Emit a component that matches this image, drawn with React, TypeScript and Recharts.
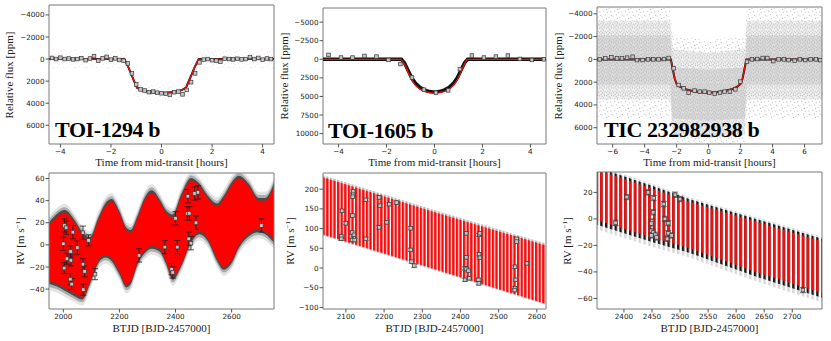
import React from "react";
import {
  Area,
  ComposedChart,
  ErrorBar,
  Line,
  ReferenceArea,
  Scatter,
  XAxis,
  YAxis,
} from "recharts";

// ---------- transit panels: binned flux (hours, ppm) ----------
const toi1294Bins = [
  [-4.33, -100], [-4.17, 0], [-4.0, -120], [-3.83, 0], [-3.67, -50], [-3.5, 30],
  [-3.33, 0], [-3.17, -80], [-3.0, 100], [-2.83, -50], [-2.67, -270], [-2.5, 150],
  [-2.33, -60], [-2.17, -200], [-2.0, 50], [-1.83, -60], [-1.67, 80], [-1.5, 150],
  [-1.33, 400], [-1.17, 1300], [-1.0, 2300], [-0.83, 2750], [-0.67, 2850], [-0.5, 3000],
  [-0.33, 2950], [-0.17, 3050], [0, 3100], [0.17, 3150], [0.33, 3250], [0.5, 3000],
  [0.67, 2950], [0.83, 3200], [1.0, 2800], [1.17, 2100], [1.33, 1300], [1.5, 300],
  [1.67, 50], [1.83, 0], [2.0, 100], [2.17, 150], [2.33, 250], [2.5, -30],
  [2.67, 0], [2.83, 30], [3.0, -30], [3.17, 30], [3.33, 0], [3.5, -180],
  [3.67, 0], [3.83, -100], [4.0, 50], [4.17, -50], [4.33, 0],
];
const toi1294Model = [
  [-4.45, 0], [-1.47, 0], [-1.3, 800], [-1.1, 1900], [-0.97, 2600], [-0.8, 2820],
  [-0.5, 2980], [0, 3080], [0.5, 2980], [0.8, 2820], [0.97, 2600], [1.1, 1900],
  [1.3, 800], [1.47, 0], [4.45, 0],
];
const toi1294Cloud = [
  [-4.45, -900, 900], [-1.5, -900, 900], [-1.3, -300, 1700], [-1.1, 700, 2900],
  [-0.97, 1600, 3700], [-0.5, 2000, 4000], [0, 2100, 4100], [0.5, 2000, 4000],
  [0.97, 1600, 3700], [1.1, 700, 2900], [1.3, -300, 1700], [1.5, -900, 900],
  [4.45, -900, 900],
];

const toi1605Bins = [
  [-4.42, -590], [-3.9, -230], [-3.42, -230], [-2.92, -450], [-2.42, -360],
  [-1.92, 90], [-1.42, 640], [-0.94, 2450], [-0.44, 4090], [0.06, 4500],
  [0.57, 4180], [1.06, 1320], [1.56, -500], [2.06, -230], [2.56, -360],
  [3.06, -500], [3.56, -45], [4.06, 90], [4.56, 0],
];
const toi1605ModelBlack = [
  [-4.65, 0], [-1.38, 0], [-1.25, 500], [-1.1, 1500], [-0.95, 2500], [-0.8, 3200],
  [-0.6, 3800], [-0.4, 4150], [-0.2, 4350], [0, 4420], [0.2, 4350], [0.4, 4150],
  [0.6, 3800], [0.8, 3200], [0.95, 2500], [1.1, 1500], [1.25, 500], [1.38, 0],
  [4.65, 0],
];
const toi1605ModelRed = [
  [-4.65, 0], [-1.4, 0], [-1.25, 650], [-1.1, 1750], [-0.95, 2800], [-0.8, 3500],
  [-0.6, 4050], [-0.4, 4350], [-0.2, 4500], [0, 4560], [0.2, 4500], [0.4, 4350],
  [0.6, 4050], [0.8, 3500], [0.95, 2800], [1.1, 1750], [1.25, 650], [1.36, 0],
  [4.65, 0],
];

const ticBins = [
  [-6.81, 0], [-6.46, -90], [-6.08, -175], [-5.73, -90], [-5.42, -90], [-5.1, -150],
  [-4.75, -230], [-4.48, 60], [-4.13, 60], [-3.79, 0], [-3.46, 0], [-3.13, 0],
  [-2.79, -30], [-2.5, -120], [-2.19, 790], [-1.88, 2250], [-1.56, 2540], [-1.25, 2920],
  [-0.88, 2740], [-0.56, 2830], [-0.25, 2830], [0.04, 2920], [0.38, 3000], [0.71, 2920],
  [1.0, 2830], [1.33, 2830], [1.67, 2630], [1.98, 1950], [2.4, 200], [2.71, 0],
  [3.04, -30], [3.38, -120], [3.67, -120], [4.04, 150], [4.38, 0], [4.71, 0],
  [5.0, 60], [5.38, 120], [5.71, 0], [6.04, 60], [6.38, 0], [6.71, 0], [6.98, 60],
];
const ticModel = [
  [-6.98, 0], [-2.36, 0], [-2.25, 800], [-2.12, 1700], [-2.0, 2150], [-1.8, 2400],
  [-1.5, 2600], [-1.0, 2780], [-0.5, 2880], [0, 2920], [0.5, 2880], [1.0, 2780],
  [1.5, 2600], [1.8, 2400], [2.0, 2150], [2.12, 1700], [2.25, 800], [2.36, 0],
  [7.09, 0],
];
const ticCloudOuter = [
  [-7.1, -4800, 5200], [-2.4, -4800, 5200], [-2.25, -2000, 7600], [0, -1700, 7600],
  [2.25, -2000, 7600], [2.4, -4800, 5200], [7.1, -4800, 5200],
];
const ticCloudMid = [
  [-7.1, -3400, 3500], [-2.4, -3400, 3500], [-2.25, -900, 6600], [0, -600, 6900],
  [2.25, -900, 6600], [2.4, -3400, 3500], [7.1, -3400, 3500],
];
const ticCloudInner = [
  [-7.1, -2100, 2200], [-2.4, -2100, 2200], [-2.25, 700, 5200], [0, 900, 5400],
  [2.25, 700, 5200], [2.4, -2100, 2200], [7.1, -2100, 2200],
];

// ---------- RV panels: (BTJD, RV, error) ----------
const toi1294Rv = [
  [2000, 1, 6], [2004, 17.5, 6], [2010, 15.5, 6], [2003, -21, 5], [2013, -12.5, 5],
  [2026, -6, 5], [2027, -14, 5], [2025, -31, 5], [2030, -35.5, 5], [2034, 11.5, 6],
  [2050, -2.5, 6], [2070, 11, 6], [2070, -17.5, 5], [2071, -40.5, 5], [2076, -24, 5],
  [2090, 4, 5], [2113, -26.5, 5], [2270, -9.5, 6], [2362, -2, 6], [2386, -22, 5],
  [2390, -25, 5], [2400, 24, 6], [2406, -2, 6], [2444, 44, 6], [2442, 28.5, 6],
  [2449, 28.5, 6], [2447, 5.5, 6], [2455, 1.5, 6], [2468, 46.5, 6], [2473, 20, 6],
  [2480, 47.5, 6], [2706, 17.5, 6],
];
const toi1294Band = [
  [1950, -33, 18], [1975, -35, 25], [2005, -39, 29], [2040, -44, 20], [2068, -47, 9],
  [2095, -33, 4.5], [2125, -14, 22], [2150, -9, 35], [2172, -12, 39], [2200, -24, 28],
  [2225, -36, 13], [2240, -33, 11], [2265, -15, 24], [2290, -5, 40], [2315, -1, 47],
  [2345, -4, 38], [2365, -14, 29], [2390, -29, 25], [2420, -17, 43], [2455, 4, 58],
  [2485, 12, 53], [2515, 6, 42], [2548, -12, 35], [2572, -20, 42], [2600, -14, 54],
  [2626, 0, 60], [2660, 10, 53], [2697, 14, 40], [2720, 12, 40], [2752, 4, 54],
];

const toi1605Rv = [
  [2090, 145, 4], [2088, 80, 4], [2088, 74, 4], [2100, 113.5, 4], [2119, 194, 4],
  [2119, 186, 4], [2118, 181, 4], [2117, 133, 4], [2116, 90, 4], [2116, 71, 4],
  [2121, 84, 4], [2123, 71, 4], [2152, 173, 4], [2152, 74, 4], [2187, 179, 4],
  [2189, 158, 4], [2187, 103, 4], [2207, 116, 4], [2214, 162, 4], [2233, 166, 4],
  [2270, 101, 4], [2270, 46, 4], [2272, 16, 4], [2279, 6, 4], [2412, -30, 4],
  [2412, -1, 4], [2416, -2.5, 4], [2415, 88, 4], [2415, 27, 4], [2421, -7, 4],
  [2423, -26, 4], [2449, 84, 4], [2451, 88, 4], [2449, 35, 4], [2451, 26, 4],
  [2447, -30, 4], [2448, -39, 4], [2543, 3, 4], [2545, -30, 4], [2543, -51, 4],
  [2542, -56, 4], [2547, 74, 4], [2547, 67, 4], [2574, 12, 4],
];
const toi1605Band = [[2040, 85, 230], [2329, -2, 143], [2624, -91, 57]];

const ticRv = [
  [2385, -3, 2], [2405, 16.5, 2], [2443, 20, 2], [2453, 15.7, 2], [2452, 5, 2],
  [2450, -2, 2], [2449, -3.5, 2], [2449, -9, 2], [2452, -10.3, 2], [2449, -12.5, 2],
  [2456, -12, 2], [2458, -14, 2], [2471, 11.2, 2], [2473, 0, 2], [2479, -3.2, 2],
  [2479, -10.8, 2], [2477, -15, 2], [2485, -12.5, 2], [2491, 18.2, 2], [2500, 15, 2],
  [2719, -53.7, 2],
];
const ticBand = [
  [2352, -1, 37], [2450, -14, 23], [2516, -22, 13], [2635, -40, -2], [2753, -56, -17],
];

// ---------- helpers ----------
const xy = (rows: number[][]) => rows.map(([x, y]) => ({ x, y }));
const xye = (rows: number[][]) => rows.map(([x, y, e]) => ({ x, y, e }));
const band = (rows: number[][]) => rows.map(([x, lo, hi]) => ({ x, lo, hi }));

const Y_W = 40;
const X_H = 15;
const PAD = 2;
const TICK = { fontSize: 7.2, fontFamily: "DejaVu Sans", fill: "#222" };
const fmt = (v: number) => (v < 0 ? `\u2212${Math.abs(v)}` : `${v}`);
const SERIF = "'Liberation Serif', 'DejaVu Serif', serif";

type Box = { left: number; top: number; w: number; h: number };

const Square = (props: any) => {
  const { cx, cy } = props;
  if (cx == null || cy == null) return null;
  return (
    <rect
      x={cx - 1.8}
      y={cy - 1.8}
      width={3.6}
      height={3.6}
      fill="#c4c4c4"
      stroke="#3a3a3a"
      strokeWidth={0.7}
    />
  );
};

// irregular dot textures standing in for the unbinned photometry
function Speckle({ id, w, h, r, color, bg, dots }: any) {
  return (
    <pattern id={id} patternUnits="userSpaceOnUse" width={w} height={h}>
      {bg && <rect width={w} height={h} fill={bg} />}
      {dots.map(([cx, cy]: number[], i: number) => (
        <circle key={i} cx={cx} cy={cy} r={r} fill={color} />
      ))}
    </pattern>
  );
}

const sparseDots = [
  [1, 2], [4.5, 0.8], [8, 3.5], [2.7, 6.2], [6.3, 7.6], [9.8, 6.9], [5.5, 4.4], [10.4, 1.3],
];
const denseDots = [
  [0.6, 0.7], [3.1, 1.5], [5.6, 0.4], [1.9, 3.6], [4.4, 2.9], [6.3, 4.2], [0.4, 5.1],
  [3.6, 5.3], [5.2, 6.4], [2.2, 6.9],
];

function Axes({ xDomain, xTicks, yDomain, yTicks, reversed }: any) {
  return (
    <>
      <XAxis
        type="number"
        dataKey="x"
        domain={xDomain}
        ticks={xTicks}
        interval={0}
        allowDataOverflow
        axisLine={false}
        tickLine={{ stroke: "#555" }}
        tickSize={3.5}
        tickMargin={1}
        tick={TICK}
        tickFormatter={fmt}
        height={X_H}
      />
      <YAxis
        type="number"
        dataKey="y"
        domain={yDomain}
        ticks={yTicks}
        interval={0}
        reversed={reversed}
        allowDataOverflow
        axisLine={false}
        tickLine={{ stroke: "#555" }}
        tickSize={3.5}
        tickMargin={1}
        tick={TICK}
        tickFormatter={fmt}
        width={Y_W}
      />
    </>
  );
}

function Frame({ xDomain, yDomain }: any) {
  return (
    <ReferenceArea
      x1={xDomain[0]}
      x2={xDomain[1]}
      y1={yDomain[0]}
      y2={yDomain[1]}
      fill="none"
      stroke="#7a7a7a"
      strokeWidth={1}
      ifOverflow="visible"
    />
  );
}

function TransitPanel(p: any) {
  const box: Box = p.box;
  return (
    <div style={{ position: "absolute", left: box.left - Y_W, top: box.top - PAD }}>
      <ComposedChart
        width={box.w + Y_W + PAD}
        height={box.h + X_H + PAD}
        margin={{ top: PAD, right: PAD, left: 0, bottom: 0 }}
      >
        <defs>
          <Speckle id={`faint-${p.id}`} w={11} h={9} r={0.4} color="#c2c2c2" dots={sparseDots} />
          <Speckle id={`sparse-${p.id}`} w={11} h={9} r={0.6} color="#c0c0c0" dots={sparseDots} />
          <Speckle id={`dense-${p.id}`} w={7} h={7.5} r={0.75} color="#c6c6c6" bg="#f1f1f1" dots={denseDots} />
          <Speckle id={`core-${p.id}`} w={7} h={7.5} r={0.75} color="#bfbfbf" bg="#dcdcdc" dots={denseDots} />
        </defs>
        {Axes({ ...p, reversed: true })}
        {(p.clouds || []).map((c: any, i: number) => (
          <Area
            key={i}
            data={band(c.rows)}
            dataKey={(d: any) => [d.lo, d.hi]}
            type="linear"
            stroke="none"
            fill={`url(#${c.fill}-${p.id})`}
            fillOpacity={1}
            isAnimationActive={false}
            dot={false}
            activeDot={false}
          />
        ))}
        <Line
          data={xy(p.modelBlack)}
          dataKey="y"
          type="linear"
          stroke="#111"
          strokeWidth={p.blackWidth || 2}
          dot={false}
          activeDot={false}
          isAnimationActive={false}
        />
        <Line
          data={xy(p.modelRed)}
          dataKey="y"
          type="linear"
          stroke="#e8120c"
          strokeWidth={1.3}
          dot={false}
          activeDot={false}
          isAnimationActive={false}
        />
        <Scatter data={xy(p.bins)} shape={Square} isAnimationActive={false} />
        {Frame(p)}
      </ComposedChart>
    </div>
  );
}

function RvPanel(p: any) {
  const box: Box = p.box;
  return (
    <div style={{ position: "absolute", left: box.left - Y_W, top: box.top - PAD }}>
      <ComposedChart
        width={box.w + Y_W + PAD}
        height={box.h + X_H + PAD}
        margin={{ top: PAD, right: PAD, left: 0, bottom: 0 }}
      >
        <defs>
          {p.stripe &&
            p.layers.map((l: any, i: number) => (
              <pattern
                key={i}
                id={`st-${p.id}-${i}`}
                patternUnits="userSpaceOnUse"
                width={p.stripe.pitch}
                height="10"
              >
                <rect width={p.stripe.bar} height="10" fill={l.fill} />
              </pattern>
            ))}
        </defs>
        {Axes({ ...p, reversed: false })}
        {p.layers.map((l: any, i: number) => (
          <Area
            key={i}
            data={band(p.band)}
            dataKey={(d: any) => [d.lo - l.lo, d.hi + l.hi]}
            type={p.curve}
            stroke="none"
            fill={p.stripe ? `url(#st-${p.id}-${i})` : l.fill}
            fillOpacity={1}
            isAnimationActive={false}
            dot={false}
            activeDot={false}
          />
        ))}
        <Scatter data={xye(p.points)} shape={Square} isAnimationActive={false}>
          <ErrorBar dataKey="e" direction="y" width={3} stroke={p.errColor} strokeWidth={0.8} />
        </Scatter>
        {Frame(p)}
      </ComposedChart>
    </div>
  );
}

const transitTicks = [-4000, -2000, 0, 2000, 4000, 6000];

const boxes: Record<string, Box> = {
  t1: { left: 49, top: 5, w: 225, h: 139 },
  t2: { left: 323, top: 8, w: 223, h: 136 },
  t3: { left: 597, top: 7, w: 225, h: 137 },
  r1: { left: 49, top: 173, w: 225, h: 136 },
  r2: { left: 323, top: 173, w: 223, h: 136 },
  r3: { left: 597, top: 172, w: 225, h: 137 },
};

const label = (text: React.ReactNode, x: number, y: number, rotate = false) => (
  <div
    style={{
      position: "absolute",
      left: x,
      top: y,
      transform: `translate(-50%, -50%)${rotate ? " rotate(-90deg)" : ""}`,
      fontFamily: SERIF,
      fontSize: 11,
      color: "#222",
      whiteSpace: "nowrap",
      lineHeight: "12px",
    }}
  >
    {text}
  </div>
);

const name = (text: string, x: number, y: number) => (
  <div
    style={{
      position: "absolute",
      left: x,
      top: y,
      fontFamily: SERIF,
      fontWeight: "bold",
      fontSize: 22,
      lineHeight: "22px",
      letterSpacing: -0.4,
      color: "#000",
      whiteSpace: "nowrap",
    }}
  >
    {text}
  </div>
);

const rvLabel = (
  <span>
    RV [m s<sup style={{ fontSize: 7, verticalAlign: "4px", lineHeight: 0 }}>−1</sup>]
  </span>
);

export default function App() {
  return (
    <div
      style={{
        position: "absolute",
        left: 0,
        top: 0,
        width: 831,
        height: 341,
        background: "#fff",
        overflow: "hidden",
      }}
    >
      <TransitPanel
        id="t1"
        box={boxes.t1}
        xDomain={[-4.45, 4.45]}
        xTicks={[-4, -2, 0, 2, 4]}
        yDomain={[-4900, 7700]}
        yTicks={transitTicks}
        bins={toi1294Bins}
        modelBlack={toi1294Model}
        modelRed={toi1294Model}
        blackWidth={2}
        clouds={[{ rows: toi1294Cloud, fill: "faint" }]}
      />
      <TransitPanel
        id="t2"
        box={boxes.t2}
        xDomain={[-4.65, 4.65]}
        xTicks={[-4, -2, 0, 2, 4]}
        yDomain={[-6900, 11400]}
        yTicks={[-5000, -2500, 0, 2500, 5000, 7500, 10000]}
        bins={toi1605Bins}
        modelBlack={toi1605ModelBlack}
        modelRed={toi1605ModelRed}
        blackWidth={3.5}
      />
      <TransitPanel
        id="t3"
        box={boxes.t3}
        xDomain={[-6.98, 7.09]}
        xTicks={[-6, -4, -2, 0, 2, 4, 6]}
        yDomain={[-4600, 7430]}
        yTicks={transitTicks}
        bins={ticBins}
        modelBlack={ticModel}
        modelRed={ticModel}
        blackWidth={2}
        clouds={[
          { rows: ticCloudOuter, fill: "sparse" },
          { rows: ticCloudMid, fill: "dense" },
          { rows: ticCloudInner, fill: "core" },
        ]}
      />

      <RvPanel
        id="r1"
        box={boxes.r1}
        xDomain={[1949, 2751]}
        xTicks={[2000, 2200, 2400, 2600]}
        yDomain={[-58, 65]}
        yTicks={[-40, -20, 0, 20, 40, 60]}
        band={toi1294Band}
        curve="monotone"
        layers={[
          { lo: 8, hi: 8, fill: "#e4e4e4" },
          { lo: 5, hi: 5, fill: "#acacac" },
          { lo: 2.5, hi: 2.5, fill: "#4a4a4a" },
          { lo: 0, hi: 0, fill: "#ff0000" },
        ]}
        points={toi1294Rv}
        errColor="#1a1a1a"
      />
      <RvPanel
        id="r2"
        box={boxes.r2}
        xDomain={[2040, 2624]}
        xTicks={[2100, 2200, 2300, 2400, 2500, 2600]}
        yDomain={[-104, 241]}
        yTicks={[-100, -50, 0, 50, 100, 150, 200]}
        band={toi1605Band}
        curve="linear"
        stripe={{ pitch: 3.6, bar: 2.3 }}
        layers={[
          { lo: 3, hi: 5, fill: "#b8b8b8" },
          { lo: 0, hi: 0, fill: "#ff0a0a" },
        ]}
        points={toi1605Rv}
        errColor="#555"
      />
      <RvPanel
        id="r3"
        box={boxes.r3}
        xDomain={[2352, 2753]}
        xTicks={[2400, 2450, 2500, 2550, 2600, 2650, 2700]}
        yDomain={[-68, 35.4]}
        yTicks={[-60, -40, -20, 0, 20]}
        band={ticBand}
        curve="linear"
        stripe={{ pitch: 4.8, bar: 2.4 }}
        layers={[
          { lo: 7, hi: 3.5, fill: "#d6d6d6" },
          { lo: 3.5, hi: 2, fill: "#1a1a1a" },
          { lo: 0, hi: 0, fill: "#ff0a0a" },
        ]}
        points={ticRv}
        errColor="#444"
      />

      {label("Relative flux [ppm]", 9, 74.5, true)}
      {label("Relative flux [ppm]", 284, 76, true)}
      {label("Relative flux [ppm]", 558, 75.5, true)}
      {label(rvLabel, 20, 241, true)}
      {label(rvLabel, 290, 241, true)}
      {label(rvLabel, 567, 240.5, true)}

      {label("Time from mid-transit [hours]", 161.5, 162)}
      {label("Time from mid-transit [hours]", 434.5, 162)}
      {label("Time from mid-transit [hours]", 709.5, 162)}
      {label("BTJD [BJD-2457000]", 161.5, 328)}
      {label("BTJD [BJD-2457000]", 434.5, 328)}
      {label("BTJD [BJD-2457000]", 709.5, 328)}

      {name("TOI-1294 b", 55, 119)}
      {name("TOI-1605 b", 328, 120)}
      {name("TIC 232982938 b", 604, 119)}
    </div>
  );
}
